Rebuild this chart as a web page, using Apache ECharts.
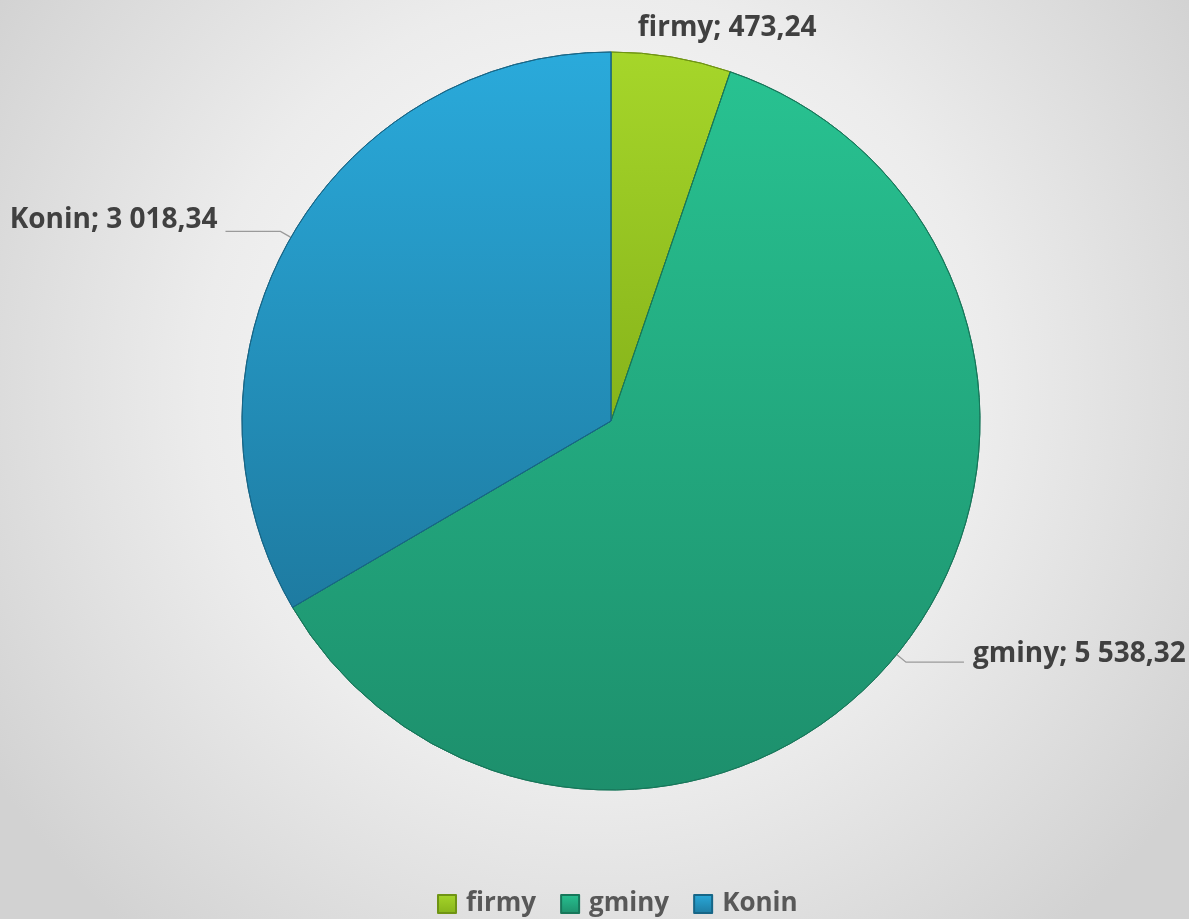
<!DOCTYPE html>
<html>
<head>
<meta charset="utf-8">
<script src="https://cdn.jsdelivr.net/npm/echarts@6/dist/echarts.min.js"></script>
<style>
html,body{margin:0;padding:0;width:1189px;height:919px;overflow:hidden;}
#c{width:1189px;height:919px;}
</style>
</head>
<body>
<div id="c"></div>
<script>
var categories = ['firmy', 'gminy', 'Konin'];
var values = [473.24, 5538.32, 3018.34];
var valueLabels = ['473,24', '5 538,32', '3 018,34'];

var gradients = [
  ['#a6d62a', '#86b31a'],
  ['#28c291', '#1d8f6c'],
  ['#2aaadb', '#1e7ba1']
];
var borders = ['#6f9414', '#17775a', '#176687'];
var labelOffsets = [[-97, -21], [5, -8], [-4, -11]];

function grad(i) {
  return {type: 'linear', x: 0, y: 0, x2: 0, y2: 1,
    colorStops: [{offset: 0, color: gradients[i][0]}, {offset: 1, color: gradients[i][1]}]};
}

var data = categories.map(function (c, i) {
  return {
    name: c,
    value: values[i],
    itemStyle: {color: grad(i), borderColor: borders[i], borderWidth: 1},
    labelLine: {show: i !== 0, length: i === 0 ? 8 : 12, length2: i === 2 ? 55 : 58}
  };
});

var chart = echarts.init(document.getElementById('c'));
chart.setOption({
  backgroundColor: {
    type: 'radial', x: 0.5, y: 0.42, r: 0.78,
    colorStops: [{offset: 0, color: '#ffffff'}, {offset: 0.55, color: '#ececec'}, {offset: 1, color: '#d2d2d2'}]
  },
  legend: {
    bottom: -3,
    left: 432,
    itemWidth: 18,
    itemHeight: 18,
    itemGap: 24,
    icon: 'rect',
    textStyle: {fontFamily: 'Open Sans', fontWeight: 'bold', fontSize: 26, color: '#585858', padding: [0, 0, 0, 5]},
    data: categories
  },
  series: [{
    type: 'pie',
    center: [611, 421],
    radius: [0, 369],
    startAngle: 90,
    clockwise: true,
    data: data,
    label: {
      show: true,
      position: 'outside',
      fontFamily: 'Open Sans',
      fontWeight: 'bold',
      fontSize: 28,
      color: '#404040',
      overflow: 'none',
      edgeDistance: 0,
      distanceToLabelLine: 4,
      formatter: function (p) { return p.name + '; ' + valueLabels[p.dataIndex]; }
    },
    labelLine: {lineStyle: {color: '#9a9a9a', width: 1.3}, smooth: false},
    labelLayout: function (p) {
      return {dx: labelOffsets[p.dataIndex][0], dy: labelOffsets[p.dataIndex][1]};
    },
    emphasis: {disabled: true}
  }]
});
</script>
</body>
</html>
